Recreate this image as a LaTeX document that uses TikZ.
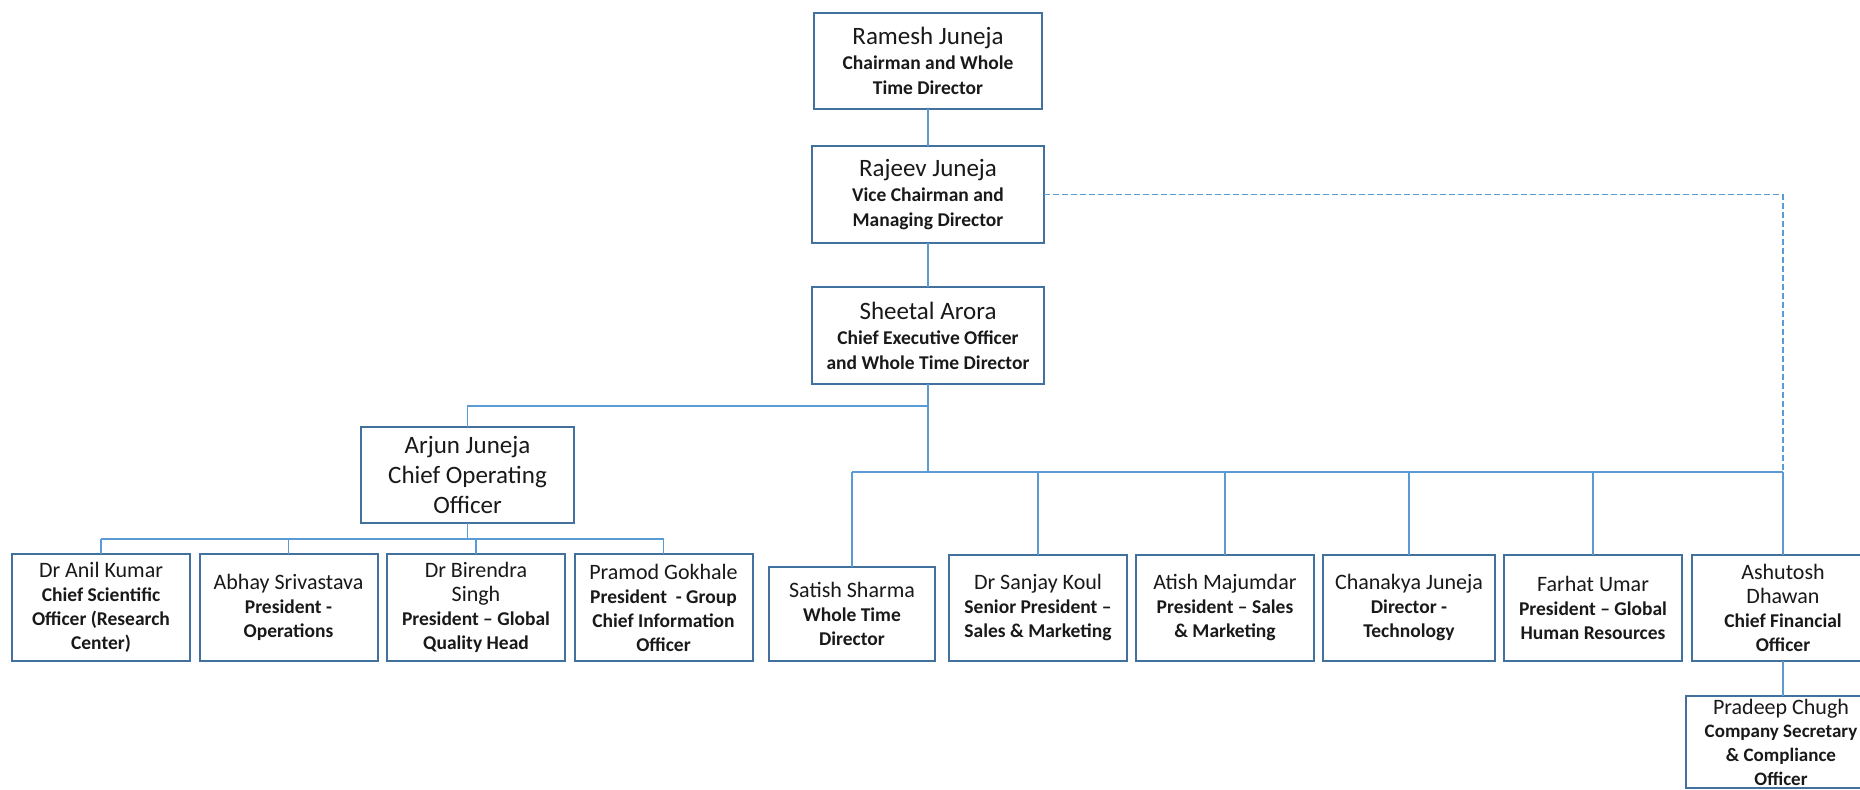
\documentclass[tikz,border=0pt]{standalone}
\usepackage{fontspec}
\setmainfont{Carlito}
\usepackage{xcolor}
\usepackage{tikz}
\usetikzlibrary{positioning,calc}
\definecolor{boxline}{RGB}{65,113,156}
\definecolor{wire}{RGB}{91,155,213}
\newcommand{\nm}[1]{{\fontsize{12.5}{12.5}\selectfont\mdseries #1}}
\newcommand{\sn}[1]{{\fontsize{11}{11}\selectfont\mdseries #1}}

\begin{document}
\begin{tikzpicture}[
  box/.style={draw=boxline,line width=1pt,outer sep=0pt,fill=white,align=center,inner sep=2pt,text=black!90},
  head/.style={box,minimum width=116pt,minimum height=48.5pt,font=\fontsize{9.75}{12.5}\selectfont\bfseries},
  coo/.style={box,minimum width=106.5pt,minimum height=48pt,font=\fontsize{12.5}{15}\selectfont},
  staff/.style={box,minimum width=89pt,minimum height=53.5pt,font=\fontsize{9.75}{12}\selectfont\bfseries},
  link/.style={draw=wire,line width=0.75pt}]
  \useasboundingbox (0,0) rectangle (930pt,-394.5pt);
  % board
  \node[head,minimum width=114pt,minimum height=48pt] (ramesh) at (464pt,-30.5pt)
    {\nm{Ramesh Juneja}\\Chairman and Whole\\Time Director};
  \node[head,below=18.5pt of ramesh] (rajeev) {\nm{Rajeev Juneja}\\Vice Chairman and\\Managing Director};
  \node[head,below=22pt of rajeev] (sheetal) {\nm{Sheetal Arora}\\Chief Executive Officer\\and Whole Time Director};
  \node[coo] (arjun) at (233.75pt,-237.5pt) {Arjun Juneja\\Chief Operating\\Officer};
  % reports of the COO
  \node[staff] (anil) at (50.5pt,-303.75pt) {\sn{Dr Anil Kumar}\\Chief Scientific\\Officer (Research\\Center)};
  \node[staff,right=4.75pt of anil] (abhay) {\sn{Abhay Srivastava}\\President -\\Operations};
  \node[staff,right=4.75pt of abhay] (birendra) {\sn{Dr Birendra}\\\sn{Singh}\\President -- Global\\Quality Head};
  \node[staff,right=4.75pt of birendra] (pramod) {\sn{Pramod Gokhale}\\President~ - Group\\Chief Information\\Officer};
  % reports of the CEO
  \node[staff,minimum width=83pt,minimum height=47pt] (satish) at (426pt,-307pt) {\sn{Satish Sharma}\\Whole Time\\Director};
  \node[staff,minimum height=53pt,right=7pt of satish.south east,anchor=south west] (sanjay) {\sn{Dr Sanjay Koul}\\Senior President --\\Sales \& Marketing};
  \node[staff,minimum height=53pt,right=4.5pt of sanjay] (atish) {\sn{Atish Majumdar}\\President -- Sales\\\& Marketing};
  \node[staff,minimum height=53pt,minimum width=86pt,right=4.5pt of atish] (chanakya) {\sn{Chanakya Juneja}\\Director -\\Technology};
  \node[staff,minimum height=53pt,right=4.5pt of chanakya] (farhat) {\sn{Farhat Umar}\\President -- Global\\Human Resources};
  \node[staff,minimum height=53pt,minimum width=91pt,right=5pt of farhat] (ashutosh) {\sn{Ashutosh}\\\sn{Dhawan}\\Chief Financial\\Officer};
  \node[staff,font=\fontsize{9.5}{11.8}\selectfont\bfseries,minimum height=0pt,inner ysep=1.5pt,minimum width=95pt,
        below=17.5pt of ashutosh,xshift=-1pt] (pradeep)
    {\sn{Pradeep Chugh}\\Company Secretary\\\& Compliance\\Officer};
  % wiring
  \coordinate[below=11pt of sheetal.south] (split);
  \coordinate[below=44pt of sheetal.south] (hub);
  \coordinate[below=8pt of arjun.south] (cooBus);
  \draw[link,line width=1.3pt] (ramesh) -- (rajeev);
  \draw[link] (rajeev) -- (sheetal);
  \draw[link,dash pattern=on 3pt off 1.5pt] (rajeev.east) -| (hub -| ashutosh.north);
  \draw[link] (sheetal.south) -- (hub);
  \draw[link] (split) -| (arjun.north);
  \draw[link] (hub -| satish.north) -- (hub -| ashutosh.north);
  \foreach \n in {satish,sanjay,atish,chanakya,farhat,ashutosh}
    \draw[link] (hub -| \n.north) -- (\n.north);
  \draw[link] (arjun.south) -- (cooBus);
  \draw[link] (cooBus -| anil.north) -- (cooBus -| pramod.north);
  \foreach \n in {anil,abhay,birendra,pramod}
    \draw[link] (cooBus -| \n.north) -- (\n.north);
  \draw[link] (ashutosh.south) -- (ashutosh.south |- pradeep.north);
\end{tikzpicture}
\end{document}
